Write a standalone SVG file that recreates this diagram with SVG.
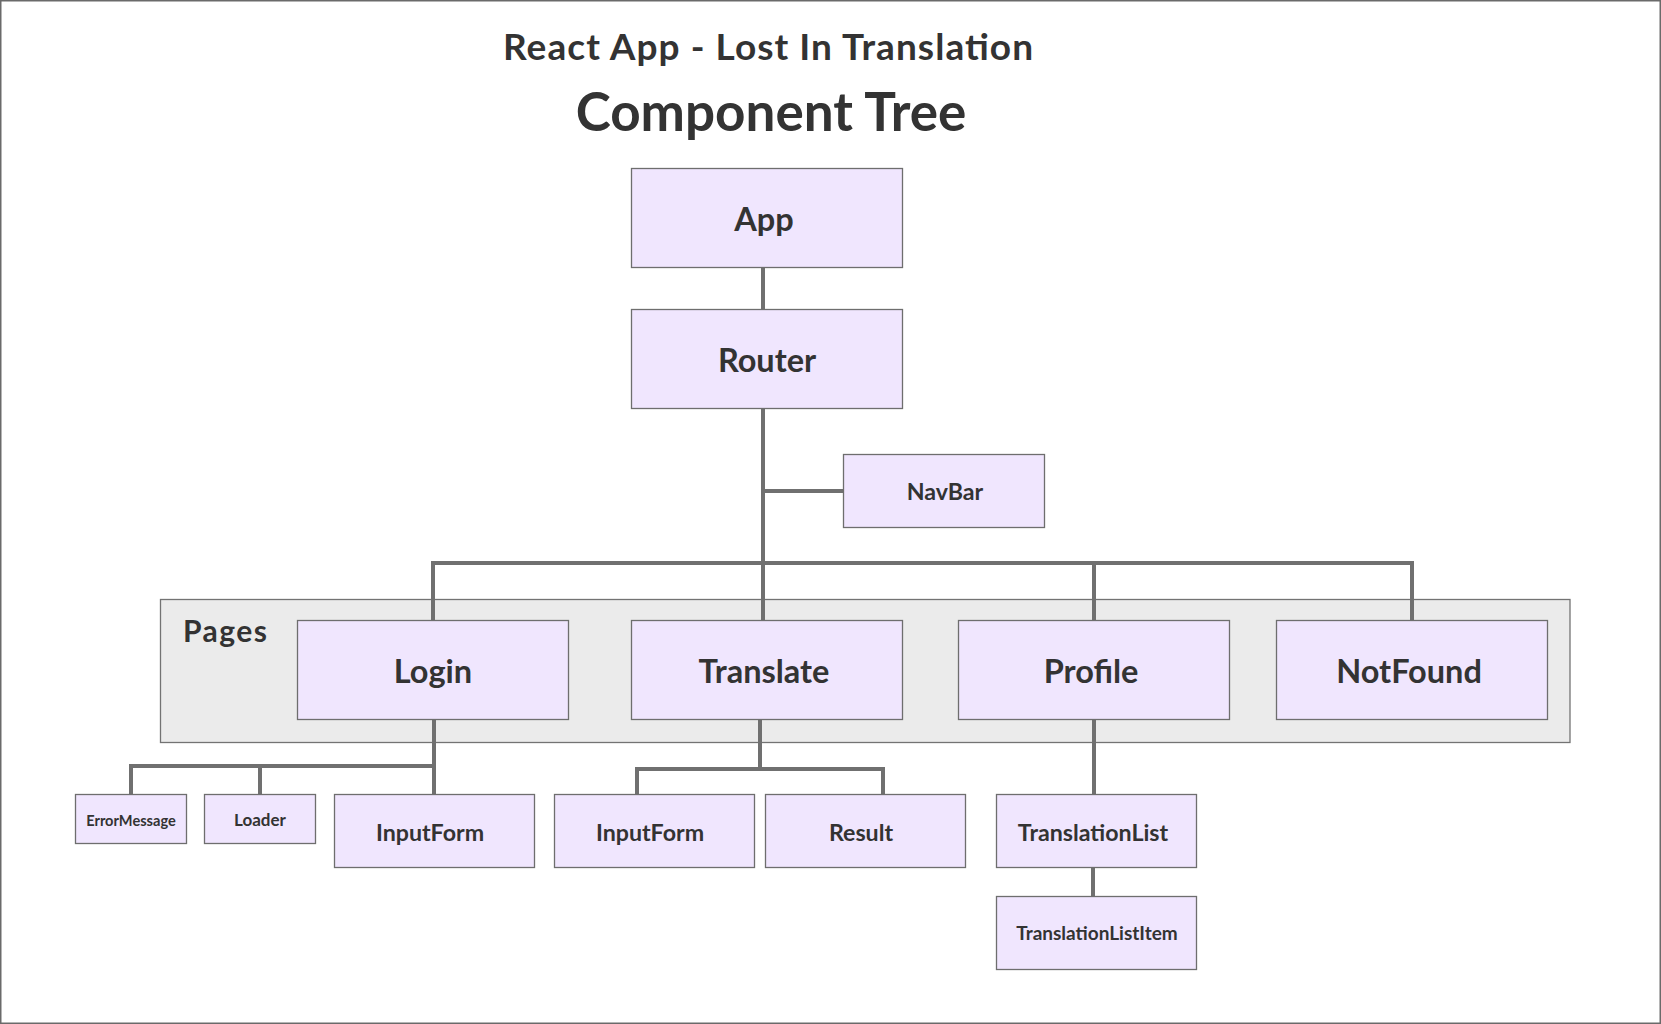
<svg xmlns="http://www.w3.org/2000/svg" width="1661" height="1024" viewBox="0 0 1661 1024">
<style>
.bg{fill:#ffffff;stroke:#6a6a6a;stroke-width:1.5}
.node rect{fill:#f0e6fe;stroke:#6e6e6e;stroke-width:1.3}
.pages{fill:#ebebeb;stroke:#737373;stroke-width:1.3}
text{font-family:Lato,"Open Sans","Liberation Sans",sans-serif;font-weight:700;fill:#333333;text-anchor:middle}
.conn path{fill:none;stroke:#707070;stroke-width:4;stroke-linejoin:miter}
.big{font-size:32.5px}
.mid{font-size:23.2px}
</style>
<rect class="bg" x="0.75" y="0.75" width="1659.5" height="1022.5"/>
<text x="768" y="60" font-size="37" textLength="530" lengthAdjust="spacing">React App - Lost In Translation</text>
<text x="771" y="131" font-size="53">Component Tree</text>
<g id="pages-group">
<rect class="pages" x="160.5" y="599.5" width="1409.5" height="143"/>
<text x="183" y="642" font-size="30" style="text-anchor:start" textLength="84" lengthAdjust="spacing">Pages</text>
</g>
<g class="conn" id="connectors">
<path d="M763 267 V310"/>
<path d="M763 408 V620"/>
<path d="M763 491 H843"/>
<path d="M433 620 V563 H1412 V620"/>
<path d="M1094 563 V620"/>
<path d="M434 719 V794"/>
<path d="M131 794 V766 H434"/>
<path d="M260 766 V794"/>
<path d="M760 719 V769"/>
<path d="M637 794 V769 H883 V794"/>
<path d="M1094 719 V794"/>
<path d="M1093 867 V897"/>
</g>
<g class="node" id="app"><rect x="631.5" y="168.5" width="271" height="99"/><text class="big" x="764" y="231">App</text></g>
<g class="node" id="router"><rect x="631.5" y="309.5" width="271" height="99"/><text class="big" x="767" y="372">Router</text></g>
<g class="node" id="navbar"><rect x="843.5" y="454.5" width="201" height="73"/><text class="mid" x="945" y="500">NavBar</text></g>
<g class="node" id="login"><rect x="297.5" y="620.5" width="271" height="99"/><text class="big" x="433" y="683">Login</text></g>
<g class="node" id="translate"><rect x="631.5" y="620.5" width="271" height="99"/><text class="big" x="764" y="683">Translate</text></g>
<g class="node" id="profile"><rect x="958.5" y="620.5" width="271" height="99"/><text class="big" x="1091" y="683">Profile</text></g>
<g class="node" id="notfound"><rect x="1276.5" y="620.5" width="271" height="99"/><text class="big" x="1409" y="683">NotFound</text></g>
<g class="node" id="errormessage"><rect x="75.5" y="794.5" width="111" height="49"/><text x="131" y="826" font-size="14.6">ErrorMessage</text></g>
<g class="node" id="loader"><rect x="204.5" y="794.5" width="111" height="49"/><text x="260" y="826" font-size="17">Loader</text></g>
<g class="node" id="inputform-login"><rect x="334.5" y="794.5" width="200" height="73"/><text class="mid" x="430" y="841">InputForm</text></g>
<g class="node" id="inputform-translate"><rect x="554.5" y="794.5" width="200" height="73"/><text class="mid" x="650" y="841">InputForm</text></g>
<g class="node" id="result"><rect x="765.5" y="794.5" width="200" height="73"/><text class="mid" x="861" y="841">Result</text></g>
<g class="node" id="translationlist"><rect x="996.5" y="794.5" width="200" height="73"/><text class="mid" x="1093" y="841">TranslationList</text></g>
<g class="node" id="translationlistitem"><rect x="996.5" y="896.5" width="200" height="73"/><text x="1097" y="940" font-size="19">TranslationListItem</text></g>
</svg>
